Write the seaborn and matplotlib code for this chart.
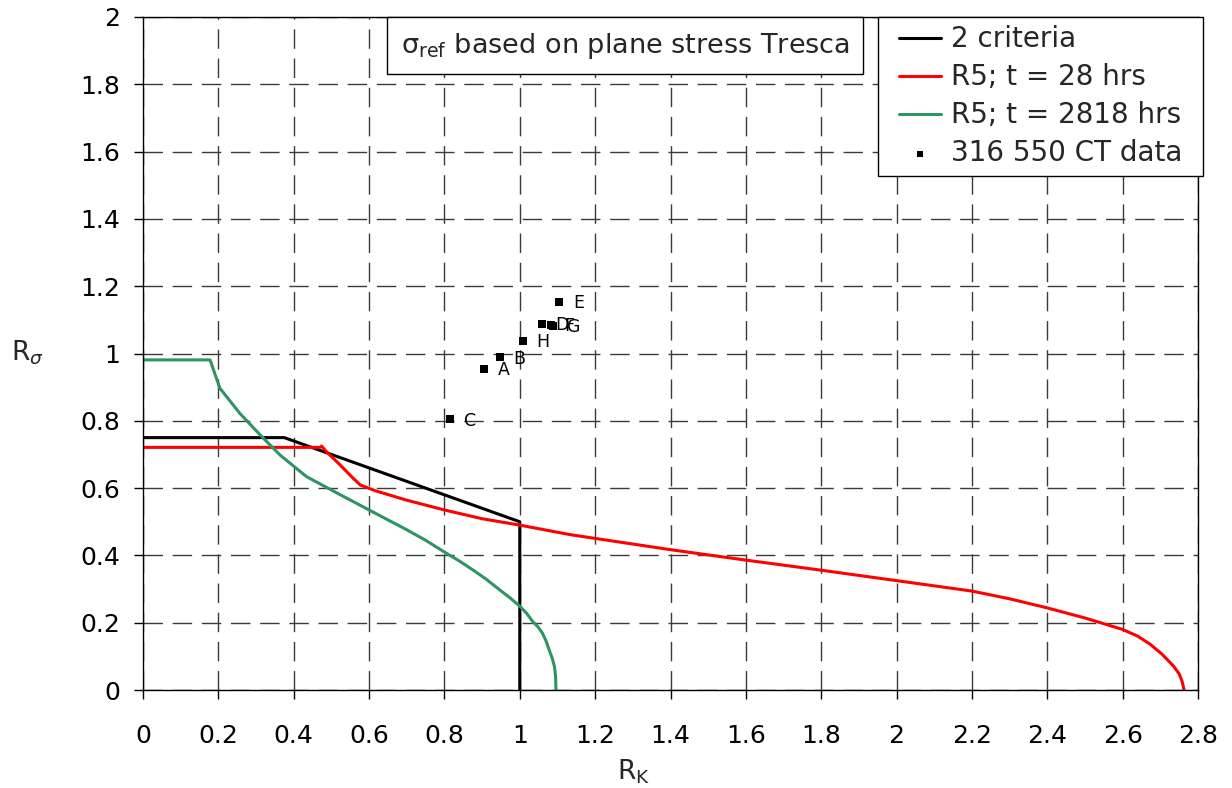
import numpy as np
import pandas as pd
import matplotlib
matplotlib.use("Agg")
import matplotlib.pyplot as plt
from matplotlib.patches import Rectangle
import seaborn as sns

# ---- data ----
crit_x = [0.0, 0.375, 1.0, 1.0]
crit_y = [0.75, 0.75, 0.50, 0.0]

r5_28_x = [0.0, 0.470, 0.474, 0.487, 0.523, 0.558, 0.577, 0.617, 0.697, 0.800, 0.900, 1.000,
           1.132, 1.209, 1.400, 1.600, 1.800, 2.000, 2.200, 2.300, 2.400, 2.500, 2.600, 2.640,
           2.673, 2.705, 2.735, 2.750, 2.758, 2.763]
r5_28_y = [0.721, 0.721, 0.725, 0.708, 0.669, 0.629, 0.609, 0.592, 0.565, 0.535, 0.509, 0.490,
           0.462, 0.449, 0.417, 0.386, 0.356, 0.325, 0.294, 0.271, 0.244, 0.214, 0.180, 0.160,
           0.136, 0.106, 0.071, 0.048, 0.025, 0.0]

r5_2818_x = [0.0, 0.178, 0.204, 0.257, 0.311, 0.364, 0.434, 0.519, 0.600, 0.697, 0.750, 0.800,
             0.840, 0.874, 0.910, 0.945, 0.975, 1.000, 1.018, 1.034, 1.048, 1.060, 1.070, 1.078,
             1.086, 1.092, 1.095, 1.096]
r5_2818_y = [0.981, 0.981, 0.897, 0.822, 0.758, 0.698, 0.634, 0.583, 0.535, 0.478, 0.445, 0.410,
             0.383, 0.358, 0.330, 0.299, 0.273, 0.249, 0.228, 0.204, 0.188, 0.169, 0.145, 0.119,
             0.095, 0.070, 0.040, 0.0]

ct_labels = ["A", "B", "C", "D", "E", "F", "G", "H"]
ct_x = [0.906, 0.947, 0.814, 1.058, 1.104, 1.082, 1.088, 1.008]
ct_y = [0.955, 0.989, 0.805, 1.088, 1.153, 1.085, 1.082, 1.038]

xticks = [0, 0.2, 0.4, 0.6, 0.8, 1, 1.2, 1.4, 1.6, 1.8, 2, 2.2, 2.4, 2.6, 2.8]
yticks = [0, 0.2, 0.4, 0.6, 0.8, 1, 1.2, 1.4, 1.6, 1.8, 2]

# ---- style ----
sns.set_style("white")
plt.rcParams["font.family"] = ["DejaVu Sans"]
plt.rcParams["mathtext.fontset"] = "dejavusans"

fig = plt.figure(figsize=(12.32, 7.88), dpi=100)
ax = fig.add_axes([143 / 1232, 98 / 788, 1055 / 1232, 673 / 788])

lw = 2.2
sns.lineplot(x=crit_x, y=crit_y, sort=False, estimator=None, color="black", lw=lw,
             ax=ax, label="2 criteria")
sns.lineplot(x=r5_28_x, y=r5_28_y, sort=False, estimator=None, color="#ff0000", lw=lw,
             ax=ax, label="R5; t = 28 hrs")
sns.lineplot(x=r5_2818_x, y=r5_2818_y, sort=False, estimator=None, color="#2e9464", lw=lw,
             ax=ax, label="R5; t = 2818 hrs")
sns.scatterplot(x=ct_x, y=ct_y, marker="s", s=28, color="black", edgecolor="black",
                linewidth=0, ax=ax, label="316 550 CT data", zorder=5)

for lab, xv, yv in zip(ct_labels, ct_x, ct_y):
    ax.annotate(lab, (xv, yv), xytext=(10, -1), textcoords="offset points",
                ha="left", va="center", fontsize=12.5, color="black")

ax.set_xlim(0, 2.8)
ax.set_ylim(0, 2)
ax.set_xticks(xticks)
ax.set_xticklabels([f"{t:g}" for t in xticks])
ax.set_yticks(yticks)
ax.set_yticklabels([f"{t:g}" for t in yticks])
ax.tick_params(axis="x", direction="out", length=6.5, width=1, pad=18, labelsize=18, colors="black")
ax.tick_params(axis="y", direction="out", length=6.5, width=1, pad=10, labelsize=18, colors="black")
ax.tick_params(bottom=True, left=True)

ax.grid(True, color="#3a3a3a", linestyle=(0, (14, 7)), linewidth=1.0)
ax.set_axisbelow(True)
for sp in ax.spines.values():
    sp.set_visible(True)
    sp.set_color("black")
    sp.set_linewidth(1.0)

ax.set_xlabel(r"R$_{\mathrm{K}}$", fontsize=19)
ax.set_ylabel(r"R$_{\sigma}$", fontsize=19, rotation=0)
ax.xaxis.set_label_coords(0.465, -0.1)
ax.yaxis.set_label_coords(-0.11, 0.48)

ax.text(0.457, 0.9575, r"σ$_{\mathrm{ref}}$ based on plane stress Tresca", transform=ax.transAxes,
        ha="center", va="center", fontsize=19.5,
        bbox=dict(boxstyle="square,pad=0.5", fc="white", ec="black", lw=1.0))

# legend: text/rows laid out by matplotlib, frame widened horizontally like the reference
hpad = 13  # extra horizontal frame padding in pixels
leg = ax.legend(loc="upper right", bbox_to_anchor=(1.005 - hpad / 1055, 1.0), borderaxespad=0,
                fontsize=20, frameon=False,
                handlelength=1.5, labelspacing=0.36, borderpad=0.3, handletextpad=0.35,
                markerscale=0.7)
leg.set_zorder(10)
fig.canvas.draw()
bb = leg.get_window_extent()
frame = Rectangle((bb.x0 - hpad, bb.y0), bb.width + 2 * hpad, bb.height, transform=None,
                  facecolor="white", edgecolor="black", linewidth=1.0, zorder=9)
ax.add_artist(frame)
frame.set_clip_on(False)

fig.savefig("out.png", dpi=100)
